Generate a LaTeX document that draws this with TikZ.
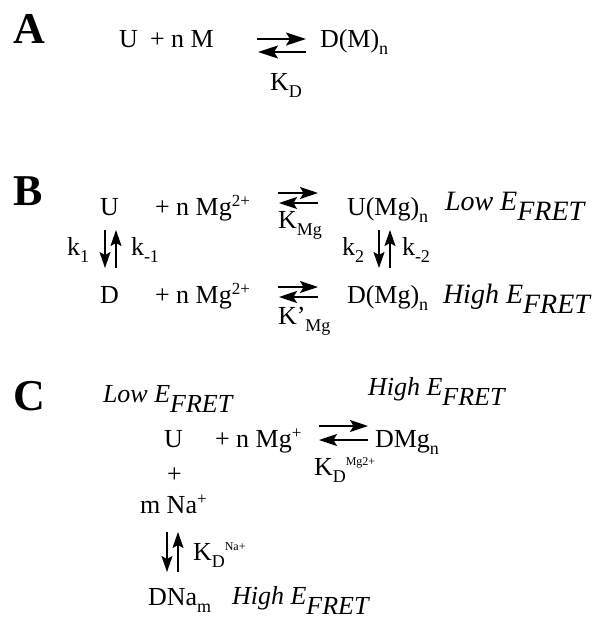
\documentclass[tikz,border=0pt]{standalone}
\usepackage{fontspec}
\setmainfont{Liberation Serif}
\usetikzlibrary{arrows.meta}

% lowered / raised small text for chemical indices
\newcommand{\lsub}[1]{\raisebox{-7pt}{\fontsize{18}{18}\selectfont #1}}
\newcommand{\lsup}[1]{\raisebox{9pt}{\fontsize{17}{17}\selectfont #1}}
\newcommand{\lsupsmall}[1]{\raisebox{10pt}{\fontsize{12}{12}\selectfont #1}}
\newcommand{\efret}{\textit{E}\raisebox{-10pt}{\textit{FRET}}}

\tikzset{
  txt/.style={anchor=base west, inner sep=0pt, outer sep=0pt,
    font=\fontsize{26}{30}\selectfont},
  bigtxt/.style={txt, font=\fontsize{28}{32}\selectfont},
  panel/.style={anchor=base west, inner sep=0pt, outer sep=0pt,
    font=\fontsize{44}{50}\selectfont\bfseries},
  bigeq/.style={line width=1.6pt, -{Stealth[length=20pt, width=13pt, inset=4pt]}},
  eqarrow/.style={line width=1.6pt, -{Stealth[length=18pt, width=12pt, inset=3.5pt]}},
  vert/.style={line width=1.6pt, -{Stealth[length=16pt, width=11pt, inset=3pt]}}
}

\begin{document}
\begin{tikzpicture}[x=1pt, y=-1pt]
\useasboundingbox (0,0) rectangle (592,619);

% ---------------- Scheme A ----------------
\node[panel] (labA) at (13,43) {A};
\node[txt] (aU) at (119,47) {U};
\node[txt] (aM) at (150,47) {+ n M};
\node[txt] (aD) at (320,47) {D(M)\lsub{n}};
\node[txt] (aK) at (270,90) {K\lsub{D}};
\coordinate (a1s) at (257,39);
\coordinate (a1e) at (306,39);
\coordinate (a2s) at (306,52);
\coordinate (a2e) at (258,52);
\draw[bigeq] (a1s) -- (a1e);
\draw[bigeq] (a2s) -- (a2e);

% ---------------- Scheme B ----------------
\node[panel] (labB) at (13,205) {B};
\node[txt] (bU) at (100,215) {U};
\node[txt] (bMg1) at (155,215) {+ n Mg\lsup{2+}};
\node[txt] (bUMg) at (347,215) {U(Mg)\lsub{n}};
\node[bigtxt] (bLow) at (445,210) {\textit{Low} \efret};
\node[txt] (bK1) at (278,228) {K\lsub{Mg}};

\node[txt] (bk1) at (67,255) {k\lsub{1}};
\node[txt] (bkm1) at (131,255) {k\lsub{-1}};
\node[txt] (bk2) at (342,255) {k\lsub{2}};
\node[txt] (bkm2) at (402,255) {k\lsub{-2}};

\node[txt] (bD) at (100,303) {D};
\node[txt] (bMg2) at (155,303) {+ n Mg\lsup{2+}};
\node[txt] (bDMg) at (347,303) {D(Mg)\lsub{n}};
\node[bigtxt] (bHigh) at (443,303) {\textit{High} \efret};
\node[txt] (bK2) at (278,324) {K'\lsub{Mg}};

% horizontal equilibria
\coordinate (b1s) at (278,193); \coordinate (b1e) at (318,193);
\coordinate (b2s) at (318,203); \coordinate (b2e) at (279,203);
\draw[eqarrow] (b1s) -- (b1e);
\draw[eqarrow] (b2s) -- (b2e);
\coordinate (b3s) at (278,287); \coordinate (b3e) at (318,287);
\coordinate (b4s) at (318,297); \coordinate (b4e) at (279,297);
\draw[eqarrow] (b3s) -- (b3e);
\draw[eqarrow] (b4s) -- (b4e);

% vertical equilibria
\coordinate (bv1s) at (105,230); \coordinate (bv1e) at (105,268);
\coordinate (bv2s) at (116,268); \coordinate (bv2e) at (116,230);
\draw[vert] (bv1s) -- (bv1e);
\draw[vert] (bv2s) -- (bv2e);
\coordinate (bv3s) at (379,230); \coordinate (bv3e) at (379,268);
\coordinate (bv4s) at (390,268); \coordinate (bv4e) at (390,230);
\draw[vert] (bv3s) -- (bv3e);
\draw[vert] (bv4s) -- (bv4e);

% ---------------- Scheme C ----------------
\node[panel] (labC) at (13,410) {C};
\node[txt] (cLow) at (103,402) {\textit{Low} \efret};
\node[txt] (cHigh1) at (368,395) {\textit{High} \efret};
\node[txt] (cU) at (164,447) {U};
\node[txt] (cMg) at (215,447) {+ n Mg\lsup{+}};
\node[txt] (cDMg) at (375,447) {DMg\lsub{n}};
\node[txt] (cK1) at (314,475) {K\lsub{D}\lsupsmall{Mg2+}};
\node[txt] (cPlus) at (167,482) {+};
\node[txt] (cNa) at (140,513) {m Na\lsup{+}};
\node[txt] (cK2) at (193,560) {K\lsub{D}\lsupsmall{Na+}};
\node[txt] (cDNa) at (148,605) {DNa\lsub{m}};
\node[txt] (cHigh2) at (232,604) {\textit{High} \efret};

\coordinate (c1s) at (319,426); \coordinate (c1e) at (368,426);
\coordinate (c2s) at (368,440); \coordinate (c2e) at (319,440);
\draw[eqarrow] (c1s) -- (c1e);
\draw[eqarrow] (c2s) -- (c2e);

\coordinate (cv1s) at (167,532); \coordinate (cv1e) at (167,572);
\coordinate (cv2s) at (178,572); \coordinate (cv2e) at (178,532);
\draw[vert] (cv1s) -- (cv1e);
\draw[vert] (cv2s) -- (cv2e);
\end{tikzpicture}
\end{document}
